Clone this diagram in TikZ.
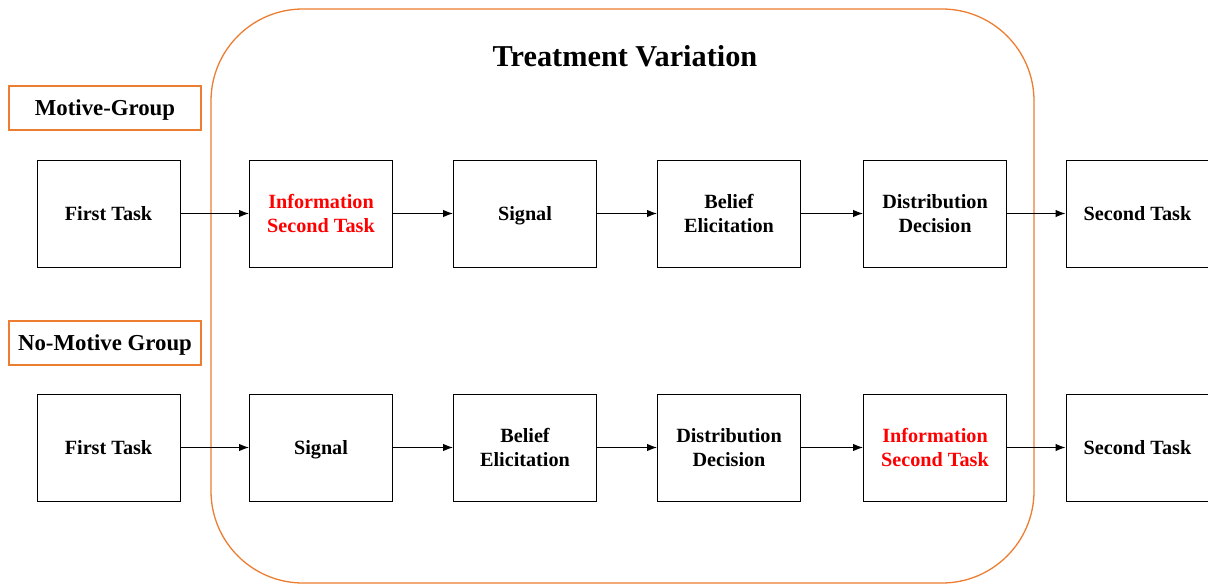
\documentclass[tikz,border=0pt]{standalone}
\usepackage{fontspec}
\setmainfont{Liberation Serif}
\usetikzlibrary{arrows.meta}
\definecolor{orng}{HTML}{ED7D31}
\definecolor{infored}{HTML}{FF0000}
\tikzset{
  stepbox/.style={draw=black, line width=1pt, minimum width=143pt, minimum height=107pt, align=center, font=\fontsize{20.2}{24}\selectfont\bfseries, inner sep=0pt},
  grouplabel/.style={draw=orng, line width=2.8pt, minimum width=192pt, minimum height=44pt, font=\fontsize{22.8}{26}\selectfont\bfseries, inner sep=0pt, text height=15pt, text depth=0pt},
  flow/.style={-{Latex[length=10pt,width=7.5pt]}, line width=1pt},
}
\begin{document}
\begin{tikzpicture}[x=1pt,y=-1pt]
\useasboundingbox (0,0) rectangle (1208,586);
\draw[orng, line width=1.3pt, rounded corners=92pt] (211,9) rectangle (1034,583);
\node[font=\fontsize{30.3}{34}\selectfont\bfseries] (title) at (625,56) {Treatment Variation};
\node[grouplabel] (lab1) at (105,108) {Motive-Group};
\node[grouplabel] (lab2) at (105,343) {No-Motive Group};
% top row
\node[stepbox] (a1) at (108.5,213.5) {First Task};
\node[stepbox, text=infored] (a2) at (321,213.5) {Information\\Second Task};
\node[stepbox, text height=13.5pt, text depth=0pt] (a3) at (525,213.5) {Signal};
\node[stepbox] (a4) at (729,213.5) {Belief\\Elicitation};
\node[stepbox] (a5) at (935,213.5) {Distribution\\Decision};
\node[stepbox] (a6) at (1137.5,213.5) {Second Task};
% bottom row
\node[stepbox] (b1) at (108.5,447.5) {First Task};
\node[stepbox, text height=13.5pt, text depth=0pt] (b2) at (321,447.5) {Signal};
\node[stepbox] (b3) at (525,447.5) {Belief\\Elicitation};
\node[stepbox] (b4) at (729,447.5) {Distribution\\Decision};
\node[stepbox, text=infored] (b5) at (935,447.5) {Information\\Second Task};
\node[stepbox] (b6) at (1137.5,447.5) {Second Task};
\foreach \i/\j in {1/2,2/3,3/4,4/5,5/6}{
  \draw[flow] (a\i) -- (a\j);
  \draw[flow] (b\i) -- (b\j);
}
\end{tikzpicture}
\end{document}
